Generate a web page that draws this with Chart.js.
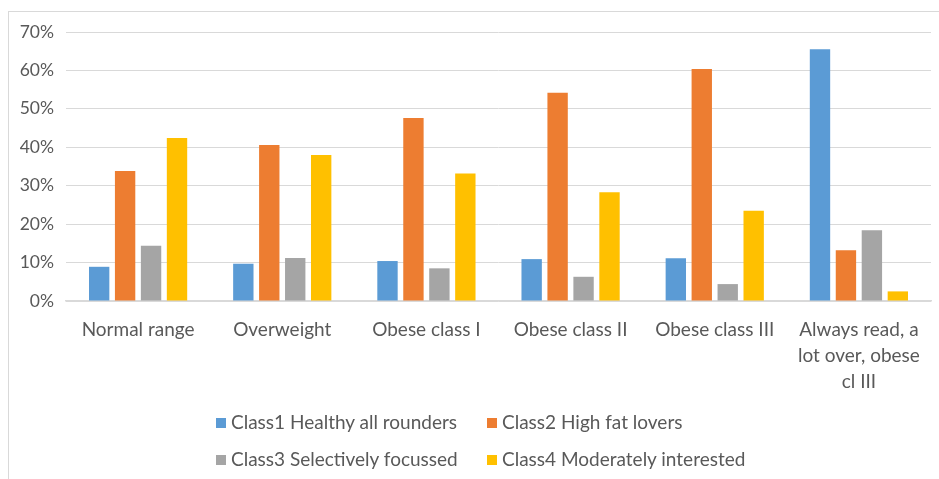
<!DOCTYPE html>
<html>
<head>
<meta charset="utf-8">
<script src="https://cdn.jsdelivr.net/npm/chart.js@4"></script>
<style>
    html, body { margin: 0; padding: 0; background: #fff; overflow: hidden; }
    #wrap { position: relative; width: 939px; height: 479px; }
    #frame { position: absolute; left: 8px; top: 11px; width: 960px; height: 500px; border: 1px solid #d9d9d9; box-sizing: border-box; }
    canvas { position: absolute; left: 0; top: 0; }
    .leg { position: absolute; font-family: Lato, sans-serif; font-size: 19px; color: #595959; white-space: nowrap; line-height: 24px; }
    .leg span { display: inline-block; width: 10px; height: 10px; margin-right: 5px; vertical-align: 1px; }
</style>
</head>
<body>
<div id="wrap">
    <div id="frame"></div>
    <canvas id="chartClasses" width="939" height="479"></canvas>
</div>
<script>
const categories = ['Normal range', 'Overweight', 'Obese class I', 'Obese class II', 'Obese class III', ['Always read, a', 'lot over, obese', 'cl III']];
const seriesNames = ['Class1 Healthy all rounders', 'Class2 High fat lovers', 'Class3 Selectively focussed', 'Class4 Moderately interested'];
const seriesColors = ['#5b9bd5', '#ed7d31', '#a5a5a5', '#ffc000'];
const class1 = [8.9, 9.7, 10.4, 10.9, 11.1, 65.5];
const class2 = [33.8, 40.6, 47.6, 54.2, 60.4, 13.2];
const class3 = [14.4, 11.2, 8.5, 6.3, 4.4, 18.4];
const class4 = [42.4, 38.0, 33.2, 28.3, 23.5, 2.5];
const yTicks = [0, 10, 20, 30, 40, 50, 60, 70];

const chart = new Chart(document.getElementById('chartClasses'), {
    type: 'bar',
    data: {
        labels: categories,
        datasets: [class1, class2, class3, class4].map((d, i) => ({
            label: seriesNames[i],
            data: d,
            backgroundColor: seriesColors[i],
            borderWidth: 0,
            categoryPercentage: 0.72,
            barPercentage: 0.785
        }))
    },
    options: {
        responsive: false,
        animation: false,
        devicePixelRatio: 1,
        layout: { padding: { left: 8, right: 8, top: 32, bottom: 60 } },
        plugins: {
            legend: { display: false },
            tooltip: { enabled: false }
        },
        scales: {
            y: {
                min: 0,
                max: 70,
                afterBuildTicks: s => { s.ticks = yTicks.map(v => ({ value: v })); },
                afterFit: s => { s.width = 58; },
                border: { display: false },
                grid: { color: '#d9d9d9', lineWidth: 1, drawTicks: false },
                ticks: {
                    padding: 12,
                    color: '#595959',
                    font: { family: 'Lato, sans-serif', size: 17.5 },
                    callback: v => v + '%'
                }
            },
            x: {
                afterFit: s => { s.height = 118; },
                border: { color: '#d9d9d9', width: 1.5 },
                grid: { display: false, drawTicks: false },
                ticks: {
                    padding: 16,
                    color: '#595959',
                    font: { family: 'Lato, sans-serif', size: 19, lineHeight: 1.36 },
                    maxRotation: 0,
                    autoSkip: false
                }
            }
        }
    }
});

// legend laid out in two columns like the original
const wrap = document.getElementById('wrap');
const cols = [216, 487];
const rows = [410, 447];
seriesNames.forEach((name, i) => {
    const el = document.createElement('div');
    el.className = 'leg';
    el.style.left = cols[i % 2] + 'px';
    el.style.top = rows[Math.floor(i / 2)] + 'px';
    el.innerHTML = '<span style="background:' + seriesColors[i] + '"></span>' + name;
    wrap.appendChild(el);
});
</script>
</body>
</html>
